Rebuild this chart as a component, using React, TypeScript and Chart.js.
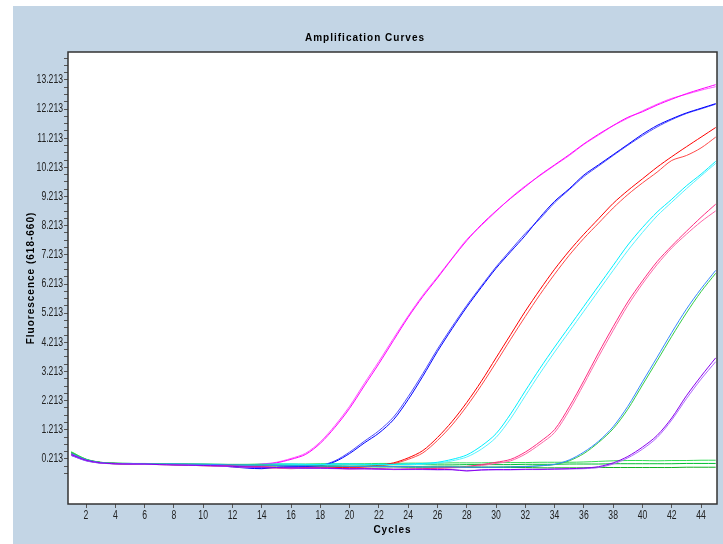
import { useEffect, useRef } from 'react';
import { Chart, registerables } from 'chart.js';

Chart.register(...registerables);

const cycles = [1, 2, 3, 4, 5, 6, 7, 8, 9, 10, 11, 12, 13, 14, 15, 16, 17, 18, 19, 20, 21, 22, 23, 24, 25, 26, 27, 28, 29, 30, 31, 32, 33, 34, 35, 36, 37, 38, 39, 40, 41, 42, 43, 44, 45];

const xTickValues = [2, 4, 6, 8, 10, 12, 14, 16, 18, 20, 22, 24, 26, 28, 30, 32, 34, 36, 38, 40, 42, 44];
const yMajorTicks = [0.213, 1.213, 2.213, 3.213, 4.213, 5.213, 6.213, 7.213, 8.213, 9.213, 10.213, 11.213, 12.213, 13.213];
const yMinorOffsets = [-0.5, -0.25, 0, 0.25, 0.5, 0.75];

const magentaA = [
  0.38, 0.18, 0.09, 0.06, 0.05,
  0.05, 0.04, 0.03, 0.03, 0.02,
  0.01, 0.00, 0.01, 0.03, 0.08,
  0.20, 0.37, 0.75, 1.30, 1.95,
  2.72, 3.48, 4.28, 5.07, 5.78,
  6.42, 7.08, 7.70, 8.25, 8.72,
  9.15, 9.55, 9.95, 10.30, 10.65,
  11.02, 11.35, 11.65, 11.93, 12.12,
  12.35, 12.55, 12.74, 12.90, 13.05,
];
const magentaB = [
  0.34, 0.16, 0.08, 0.05, 0.05,
  0.04, 0.03, 0.02, 0.02, 0.01,
  0.00, -0.01, 0.00, 0.04, 0.10,
  0.23, 0.41, 0.80, 1.36, 2.02,
  2.80, 3.56, 4.35, 5.12, 5.83,
  6.46, 7.10, 7.74, 8.22, 8.70,
  9.17, 9.58, 9.93, 10.28, 10.62,
  11.00, 11.32, 11.64, 11.90, 12.15,
  12.38, 12.58, 12.72, 12.86, 12.98,
];
const blueA = [
  0.36, 0.17, 0.08, 0.05, 0.04,
  0.04, 0.03, 0.02, 0.01, 0.00,
  -0.02, -0.06, -0.10, -0.12, -0.08,
  -0.06, -0.05, -0.02, 0.12, 0.40,
  0.76, 1.10, 1.56, 2.25, 3.05,
  3.90, 4.68, 5.42, 6.10, 6.75,
  7.32, 7.88, 8.50, 9.05, 9.48,
  9.95, 10.30, 10.65, 11.00, 11.35,
  11.65, 11.88, 12.08, 12.24, 12.40,
];
const blueB = [
  0.33, 0.15, 0.07, 0.05, 0.04,
  0.03, 0.03, 0.02, 0.01, 0.01,
  -0.01, -0.04, -0.08, -0.10, -0.07,
  -0.05, -0.04, -0.01, 0.15, 0.45,
  0.82, 1.18, 1.65, 2.35, 3.14,
  3.98, 4.75, 5.48, 6.15, 6.80,
  7.38, 7.95, 8.45, 9.00, 9.45,
  9.90, 10.26, 10.62, 10.97, 11.30,
  11.60, 11.85, 12.06, 12.22, 12.38,
];
const redA = [
  0.40, 0.18, 0.09, 0.06, 0.05,
  0.04, 0.03, 0.02, 0.01, -0.01,
  -0.02, -0.03, -0.04, -0.06, -0.08,
  -0.10, -0.08, -0.07, -0.08, -0.07,
  -0.05, 0.00, 0.08, 0.25, 0.50,
  0.95, 1.50, 2.15, 2.88, 3.68,
  4.48, 5.28, 6.02, 6.72, 7.35,
  7.92, 8.45, 8.98, 9.42, 9.82,
  10.22, 10.58, 10.92, 11.25, 11.58,
];
const redB = [
  0.37, 0.17, 0.08, 0.05, 0.04,
  0.04, 0.02, 0.01, 0.00, -0.02,
  -0.03, -0.05, -0.06, -0.08, -0.10,
  -0.12, -0.10, -0.09, -0.10, -0.09,
  -0.07, -0.03, 0.05, 0.20, 0.42,
  0.85, 1.38, 2.02, 2.74, 3.52,
  4.32, 5.10, 5.85, 6.55, 7.20,
  7.78, 8.30, 8.82, 9.28, 9.68,
  10.05, 10.45, 10.62, 10.88, 11.25,
];
const cyanA = [
  0.39, 0.18, 0.09, 0.06, 0.06,
  0.05, 0.05, 0.04, 0.04, 0.03,
  0.03, 0.02, 0.02, 0.03, 0.04,
  0.04, 0.03, 0.03, 0.04, 0.04,
  0.03, 0.03, 0.03, 0.04, 0.06,
  0.10, 0.20, 0.35, 0.66, 1.08,
  1.76, 2.55, 3.32, 4.05, 4.75,
  5.45, 6.15, 6.85, 7.55, 8.15,
  8.68, 9.12, 9.58, 9.98, 10.42,
];
const cyanB = [
  0.36, 0.17, 0.08, 0.06, 0.05,
  0.05, 0.04, 0.04, 0.03, 0.03,
  0.02, 0.02, 0.01, 0.02, 0.03,
  0.03, 0.02, 0.02, 0.03, 0.03,
  0.02, 0.02, 0.02, 0.02, 0.03,
  0.07, 0.15, 0.28, 0.55, 0.95,
  1.60, 2.38, 3.15, 3.88, 4.58,
  5.28, 5.98, 6.68, 7.36, 7.98,
  8.55, 9.02, 9.48, 9.92, 10.35,
];
const pinkA = [
  0.38, 0.18, 0.09, 0.06, 0.05,
  0.04, 0.03, 0.02, 0.01, 0.00,
  -0.01, -0.03, -0.05, -0.06, -0.08,
  -0.10, -0.09, -0.08, -0.10, -0.12,
  -0.11, -0.12, -0.14, -0.13, -0.12,
  -0.10, -0.08, -0.04, 0.02, 0.10,
  0.20, 0.45, 0.80, 1.22, 2.00,
  2.90, 3.85, 4.75, 5.60, 6.32,
  6.98, 7.52, 8.02, 8.50, 8.95,
];
const pinkB = [
  0.36, 0.17, 0.08, 0.05, 0.05,
  0.04, 0.03, 0.02, 0.01, 0.00,
  -0.02, -0.04, -0.06, -0.07, -0.09,
  -0.11, -0.10, -0.09, -0.11, -0.13,
  -0.12, -0.13, -0.15, -0.14, -0.13,
  -0.11, -0.09, -0.06, -0.01, 0.06,
  0.15, 0.38, 0.72, 1.12, 1.88,
  2.78, 3.72, 4.62, 5.48, 6.22,
  6.88, 7.45, 7.92, 8.35, 8.72,
];
const tealBlue = [
  0.40, 0.19, 0.09, 0.06, 0.06,
  0.05, 0.04, 0.04, 0.03, 0.03,
  0.02, 0.01, 0.00, 0.00, -0.01,
  -0.02, -0.02, -0.03, -0.03, -0.04,
  -0.04, -0.04, -0.05, -0.05, -0.06,
  -0.06, -0.06, -0.07, -0.07, -0.07,
  -0.06, -0.05, -0.02, 0.03, 0.18,
  0.45, 0.82, 1.32, 2.02, 2.86,
  3.70, 4.55, 5.35, 6.05, 6.68,
];
const tealGreen = [
  0.44, 0.20, 0.10, 0.07, 0.06,
  0.05, 0.05, 0.04, 0.04, 0.03,
  0.03, 0.02, 0.01, 0.01, 0.00,
  -0.01, -0.01, -0.02, -0.02, -0.03,
  -0.03, -0.03, -0.04, -0.04, -0.05,
  -0.05, -0.05, -0.06, -0.06, -0.06,
  -0.05, -0.04, -0.02, 0.02, 0.15,
  0.40, 0.78, 1.25, 1.92, 2.75,
  3.58, 4.42, 5.22, 5.95, 6.58,
];
const purpleA = [
  0.36, 0.17, 0.08, 0.05, 0.04,
  0.04, 0.02, 0.01, 0.00, -0.01,
  -0.02, -0.04, -0.06, -0.07, -0.08,
  -0.09, -0.10, -0.10, -0.11, -0.12,
  -0.12, -0.13, -0.14, -0.14, -0.14,
  -0.15, -0.15, -0.20, -0.16, -0.15,
  -0.15, -0.14, -0.14, -0.13, -0.12,
  -0.10, -0.05, 0.08, 0.30, 0.62,
  1.02, 1.62, 2.38, 3.05, 3.68,
];
const purpleB = [
  0.34, 0.16, 0.07, 0.05, 0.04,
  0.03, 0.02, 0.01, 0.00, -0.02,
  -0.03, -0.05, -0.07, -0.08, -0.09,
  -0.10, -0.11, -0.11, -0.12, -0.13,
  -0.13, -0.14, -0.15, -0.15, -0.15,
  -0.16, -0.16, -0.18, -0.17, -0.16,
  -0.16, -0.15, -0.15, -0.14, -0.13,
  -0.12, -0.08, 0.04, 0.25, 0.55,
  0.95, 1.55, 2.28, 2.95, 3.55,
];
const greenA = [
  0.46, 0.21, 0.10, 0.07, 0.06,
  0.06, 0.05, 0.05, 0.04, 0.04,
  0.03, 0.03, 0.03, 0.04, 0.04,
  0.04, 0.04, 0.05, 0.05, 0.05,
  0.05, 0.06, 0.06, 0.07, 0.07,
  0.07, 0.08, 0.08, 0.08, 0.09,
  0.09, 0.09, 0.10, 0.10, 0.10,
  0.11, 0.13, 0.15, 0.16, 0.16,
  0.15, 0.16, 0.16, 0.17, 0.17,
];
const greenB = [
  0.42, 0.19, 0.09, 0.06, 0.05,
  0.05, 0.04, 0.04, 0.03, 0.03,
  0.02, 0.01, 0.01, 0.02, 0.02,
  0.02, 0.01, 0.01, 0.02, 0.02,
  0.01, 0.01, 0.02, 0.02, 0.02,
  0.01, 0.01, 0.02, 0.02, 0.02,
  0.02, 0.03, 0.03, 0.03, 0.04,
  0.04, 0.04, 0.05, 0.05, 0.05,
  0.05, 0.05, 0.06, 0.06, 0.06,
];
const greenC = [
  0.44, 0.20, 0.09, 0.06, 0.05,
  0.04, 0.03, 0.02, 0.02, 0.01,
  0.00, -0.01, -0.02, -0.02, -0.03,
  -0.03, -0.04, -0.04, -0.05, -0.05,
  -0.05, -0.06, -0.06, -0.07, -0.07,
  -0.07, -0.08, -0.08, -0.08, -0.08,
  -0.08, -0.08, -0.09, -0.09, -0.09,
  -0.09, -0.08, -0.08, -0.08, -0.08,
  -0.08, -0.08, -0.07, -0.07, -0.07,
];

const seriesList = [
  { name: 'Purple A', data: purpleA, color: '#8800ee' },
  { name: 'Purple B', data: purpleB, color: '#b066ff' },
  { name: 'Teal blue', data: tealBlue, color: '#3388ff' },
  { name: 'Teal green', data: tealGreen, color: '#33cc44' },
  { name: 'Pink A', data: pinkA, color: '#ff2a80' },
  { name: 'Pink B', data: pinkB, color: '#ff66a8' },
  { name: 'Cyan A', data: cyanA, color: '#00f0ff' },
  { name: 'Cyan B', data: cyanB, color: '#55f4ff' },
  { name: 'Red A', data: redA, color: '#ff0000' },
  { name: 'Red B', data: redB, color: '#ff4848' },
  { name: 'Blue A', data: blueA, color: '#0000ff' },
  { name: 'Blue B', data: blueB, color: '#4a4aff' },
  { name: 'Magenta A', data: magentaA, color: '#ff00ff' },
  { name: 'Magenta B', data: magentaB, color: '#ff55ff' },
  { name: 'Green A', data: greenA, color: '#33dd55' },
  { name: 'Green B', data: greenB, color: '#00c030' },
  { name: 'Green C', data: greenC, color: '#10b020' },
];

const TICK_FONT = "12px 'Liberation Sans', Arial, sans-serif";
const TITLE_FONT = "'Liberation Sans', Arial, sans-serif";
const NARROW = 0.72;

const plotBox = {
  id: 'plotBox',
  beforeDraw(chart: any) {
    const { ctx, chartArea } = chart;
    ctx.save();
    ctx.fillStyle = '#ffffff';
    ctx.fillRect(chartArea.left, chartArea.top, chartArea.right - chartArea.left, chartArea.bottom - chartArea.top);
    ctx.restore();
    try { ctx.letterSpacing = '1px'; } catch (e) { /* ignore */ }
  },
  afterDraw(chart: any) {
    const { ctx, chartArea, scales } = chart;
    try { ctx.letterSpacing = '0px'; } catch (e) { /* ignore */ }
    ctx.save();
    ctx.strokeStyle = '#333333';
    ctx.lineWidth = 1.5;
    ctx.strokeRect(chartArea.left, chartArea.top, chartArea.right - chartArea.left, chartArea.bottom - chartArea.top);
    ctx.restore();

    // narrow tick labels taken from the scales' own ticks
    ctx.save();
    ctx.fillStyle = '#222222';
    ctx.font = TICK_FONT;
    ctx.textAlign = 'right';
    ctx.textBaseline = 'middle';
    scales.y.ticks.forEach((t: any) => {
      if (!yMajorTicks.some((m) => Math.abs(m - t.value) < 1e-6)) return;
      const py = scales.y.getPixelForValue(t.value);
      ctx.save();
      ctx.translate(chartArea.left - 5, py);
      ctx.scale(NARROW, 1);
      ctx.fillText(Number(t.value).toFixed(3), 0, 0);
      ctx.restore();
    });
    ctx.textAlign = 'center';
    scales.x.ticks.forEach((t: any) => {
      const px = scales.x.getPixelForValue(t.value);
      ctx.save();
      ctx.translate(px, chartArea.bottom + 12);
      ctx.scale(NARROW, 1);
      ctx.fillText(String(t.value), 0, 0);
      ctx.restore();
    });
    ctx.restore();
  },
};

export default function App() {
  const canvasRef = useRef<HTMLCanvasElement | null>(null);

  useEffect(() => {
    if (!canvasRef.current) return;
    const yAllTicks: number[] = [];
    yMajorTicks.forEach((m) => {
      yMinorOffsets.forEach((o) => {
        const v = Math.round((m + o) * 1000) / 1000;
        if (v <= 13.963 && !yAllTicks.some((t) => Math.abs(t - v) < 1e-6)) yAllTicks.push(v);
      });
    });
    yAllTicks.sort((a, b) => a - b);

    const chart = new Chart(canvasRef.current, {
      type: 'line',
      data: {
        datasets: seriesList.map((s) => ({
          label: s.name,
          data: s.data.map((v, i) => ({ x: cycles[i], y: v })),
          borderColor: s.color,
          backgroundColor: s.color,
          borderWidth: 1,
          pointRadius: 0,
          tension: 0.3,
          fill: false,
        })),
      },
      options: {
        animation: false,
        responsive: false,
        maintainAspectRatio: false,
        layout: { padding: { left: 0, right: 6, top: 0, bottom: 0 } },
        plugins: {
          legend: { display: false },
          tooltip: { enabled: false },
          title: {
            display: true,
            text: 'Amplification Curves',
            color: '#000000',
            font: { family: TITLE_FONT, size: 10, weight: 'bold' },
            padding: { top: 26, bottom: 8 },
          },
        },
        scales: {
          x: {
            type: 'linear',
            min: 0.77,
            max: 45.09,
            afterBuildTicks: (axis: any) => {
              axis.ticks = xTickValues.map((v) => ({ value: v }));
            },
            afterFit: (scale: any) => {
              scale.height = 40;
            },
            ticks: { display: false, autoSkip: false },
            grid: { drawOnChartArea: false, drawTicks: true, tickLength: 4, tickColor: '#555555' },
            border: { display: false },
            title: {
              display: true,
              text: 'Cycles',
              color: '#000000',
              font: { family: TITLE_FONT, size: 10, weight: 'bold' },
              padding: { top: 0, bottom: 8 },
            },
          },
          y: {
            type: 'linear',
            min: -1.331,
            max: 14.17,
            afterBuildTicks: (axis: any) => {
              axis.ticks = yAllTicks.map((v) => ({ value: v }));
            },
            afterFit: (scale: any) => {
              scale.width = 55;
            },
            ticks: { display: false, autoSkip: false },
            grid: { drawOnChartArea: false, drawTicks: true, tickLength: 4, tickColor: '#555555' },
            border: { display: false },
            title: {
              display: true,
              text: 'Fluorescence (618-660)',
              color: '#000000',
              font: { family: TITLE_FONT, size: 10, weight: 'bold' },
              padding: { top: 12, bottom: 0 },
            },
          },
        },
      },
      plugins: [plotBox],
    });
    return () => chart.destroy();
  }, []);

  return (
    <div style={{ position: 'absolute', left: 0, top: 0, width: 723, height: 544, background: '#ffffff', overflow: 'hidden' }}>
      <div style={{ position: 'absolute', left: 13, top: 6, width: 710, height: 538, background: '#c3d5e5' }}>
        <canvas ref={canvasRef} width={710} height={538} style={{ display: 'block', width: 710, height: 538 }} />
      </div>
    </div>
  );
}
